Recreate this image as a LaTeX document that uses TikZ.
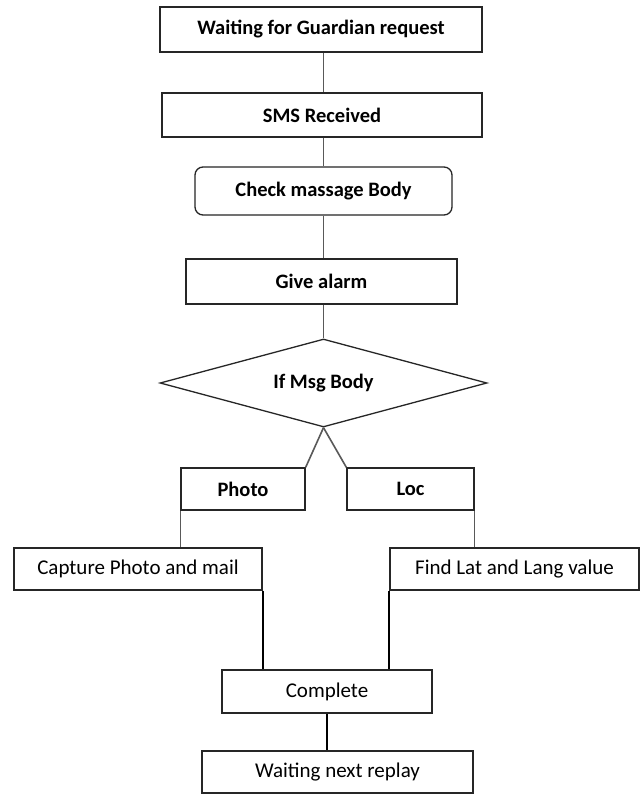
\documentclass[tikz,border=0pt]{standalone}
\usepackage{fontspec}
\setmainfont{Carlito}
\usetikzlibrary{shapes.geometric}
\begin{document}
\begin{tikzpicture}[x=1pt,y=-1pt,
  box/.style={draw=black!85,line width=1.3pt,fill=white,inner sep=0pt,
    minimum height=44pt,font=\fontsize{21}{24}\selectfont},
  bbox/.style={box,font=\fontsize{20.5}{24}\selectfont\bfseries},
  rbox/.style={bbox,rounded corners=8pt},
  decide/.style={diamond,shape aspect=3.7,draw=black!85,line width=1.3pt,inner sep=0pt,
    font=\fontsize{20.5}{24}\selectfont\bfseries},
  link/.style={draw=black!65,line width=1.6pt},
  dlink/.style={draw=black,line width=1.8pt}]
\useasboundingbox (0,0) rectangle (640,794);
\fill[white] (0,0) rectangle (640,794);

% main column
\node[bbox,minimum width=322pt,minimum height=45pt] (b1) at (321,29.5) {Waiting for Guardian request};
\node[bbox,minimum width=320pt] (b2) at (322,115) {SMS Received};
\node[rbox,minimum width=257pt,minimum height=48pt] (b3) at (323.5,191) {Check massage Body};
\node[bbox,minimum width=271pt,minimum height=45pt] (b4) at (321.5,281.5) {Give alarm};
\node[decide,minimum width=327pt,minimum height=88pt] (d) at (323.5,383) {If Msg Body};

% branches
\node[bbox,minimum width=124pt,minimum height=42pt] (photo) at (243,489) {Photo};
\node[bbox,minimum width=127pt,minimum height=42pt] (loc) at (410.5,489) {Loc};
\node[box,minimum width=248pt,minimum height=42pt] (cap) at (138,569) {Capture Photo and mail};
\node[box,minimum width=249pt,minimum height=42pt] (find) at (514.5,569) {Find Lat and Lang value};

% end of flow
\node[box,minimum width=210pt,minimum height=43pt] (done) at (327,691.5) {Complete};
\node[box,minimum width=271pt,minimum height=42pt] (next) at (337.5,772) {Waiting next replay};

% connectors
\draw[link] (b1.south -| d.north) -- (b2.north -| d.north);
\draw[link] (b2.south -| d.north) -- (b3.north -| d.north);
\draw[link] (b3.south -| d.north) -- (b4.north -| d.north);
\draw[link] (b4.south -| d.north) -- (d.north);
\draw[link] (d.south) -- (photo.north east);
\draw[link] (d.south) -- (loc.north west);
\draw[link] (photo.south west) -- (cap.north -| photo.south west);
\draw[link] (loc.south east) -- (find.north -| loc.south east);
\draw[dlink] (cap.south east) -- (done.north -| cap.south east);
\draw[dlink] (find.south west) -- (done.north -| find.south west);
\draw[dlink] (done.south) -- (next.north -| done.south);
\end{tikzpicture}
\end{document}
